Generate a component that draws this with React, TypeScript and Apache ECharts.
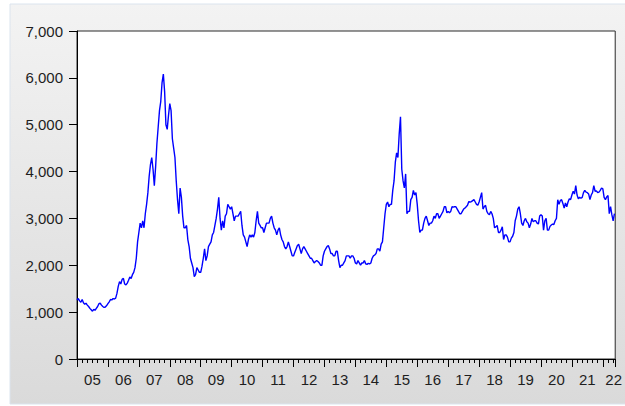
import React, { useEffect, useRef } from "react";
import * as echarts from "echarts";

// Semi-monthly closing levels (1st and 16th of each month)
const years = [2005, 2006, 2007, 2008, 2009, 2010, 2011, 2012, 2013, 2014, 2015, 2016, 2017, 2018, 2019, 2020, 2021, 2022];
const v2005 = [1260, 1290, 1240, 1210, 1270, 1200, 1170, 1190, 1150, 1120, 1080, 1050, 1020, 1060, 1040, 1080, 1120, 1180, 1190, 1150, 1120, 1100, 1110, 1140];
const v2006 = [1180, 1220, 1270, 1260, 1290, 1280, 1300, 1400, 1550, 1650, 1600, 1700, 1720, 1600, 1580, 1620, 1680, 1750, 1720, 1800, 1850, 1950, 2150, 2500];
const v2007 = [2700, 2900, 2800, 2950, 2800, 3100, 3300, 3550, 3900, 4150, 4300, 4050, 3700, 4100, 4600, 4950, 5300, 5500, 5900, 6080, 5700, 5000, 4900, 5200];
const v2008 = [5450, 5300, 4700, 4500, 4300, 3800, 3400, 3100, 3650, 3450, 3050, 2800, 2800, 2850, 2550, 2400, 2150, 2050, 1950, 1760, 1800, 1950, 1900, 1850];
const v2009 = [1850, 1980, 2150, 2350, 2100, 2200, 2400, 2450, 2500, 2650, 2700, 2850, 3000, 3200, 3450, 3000, 2750, 2950, 2800, 3050, 3100, 3300, 3250, 3200];
const v2010 = [3250, 3100, 2950, 3050, 3050, 3050, 3100, 3150, 2850, 2650, 2600, 2500, 2400, 2550, 2650, 2600, 2650, 2600, 2700, 2950, 3150, 2900, 2850, 2800];
const v2011 = [2800, 2700, 2800, 2900, 2900, 2900, 3000, 3050, 2900, 2800, 2750, 2650, 2750, 2800, 2650, 2550, 2500, 2400, 2350, 2400, 2500, 2400, 2300, 2200];
const v2012 = [2200, 2280, 2350, 2420, 2450, 2350, 2250, 2350, 2400, 2350, 2300, 2250, 2200, 2150, 2150, 2100, 2050, 2080, 2100, 2080, 2050, 2000, 2000, 2200];
const v2013 = [2300, 2350, 2400, 2420, 2350, 2250, 2250, 2200, 2200, 2300, 2300, 2100, 1950, 2000, 2000, 2050, 2100, 2200, 2200, 2200, 2150, 2200, 2200, 2150];
const v2014 = [2050, 2030, 2100, 2050, 2000, 2050, 2050, 2100, 2030, 2020, 2040, 2030, 2050, 2150, 2200, 2220, 2250, 2350, 2350, 2300, 2450, 2500, 2800, 3100];
const v2015 = [3300, 3350, 3250, 3300, 3300, 3600, 3800, 4200, 4400, 4300, 4800, 5170, 4050, 3800, 3650, 3950, 3100, 3150, 3150, 3400, 3450, 3600, 3500, 3550];
const v2016 = [3300, 2950, 2700, 2750, 2750, 2900, 3000, 3050, 2950, 2850, 2900, 2900, 2950, 3050, 3000, 3100, 3100, 3000, 3050, 3100, 3150, 3250, 3250, 3120];
const v2017 = [3150, 3120, 3150, 3250, 3240, 3250, 3250, 3200, 3150, 3100, 3100, 3150, 3200, 3220, 3250, 3280, 3360, 3350, 3360, 3380, 3400, 3350, 3300, 3280];
const v2018 = [3350, 3450, 3550, 3200, 3250, 3280, 3150, 3100, 3080, 3150, 3100, 3000, 2800, 2820, 2850, 2700, 2700, 2750, 2820, 2550, 2650, 2650, 2600, 2500];
const v2019 = [2500, 2580, 2620, 2700, 2950, 3050, 3200, 3250, 3100, 2900, 2850, 2950, 3000, 2930, 2900, 2800, 2880, 3000, 2930, 2950, 2950, 2900, 2880, 3050];
const v2020 = [3080, 3050, 2750, 2950, 3000, 2750, 2750, 2830, 2860, 2880, 2870, 2950, 3000, 3400, 3300, 3380, 3400, 3320, 3220, 3330, 3250, 3350, 3420, 3400];
const v2021 = [3500, 3580, 3520, 3700, 3500, 3420, 3450, 3430, 3450, 3550, 3600, 3560, 3550, 3520, 3400, 3500, 3550, 3700, 3580, 3590, 3550, 3560, 3600, 3650];
const v2022 = [3630, 3450, 3400, 3460, 3490, 3100, 3250, 3080, 2950, 3100];
const valuesByYear = [v2005, v2006, v2007, v2008, v2009, v2010, v2011, v2012, v2013, v2014, v2015, v2016, v2017, v2018, v2019, v2020, v2021, v2022];

// Year labels sit in the middle of each year; the last (partial) year is centred in its visible part
const labelYears = [2005.5, 2006.5, 2007.5, 2008.5, 2009.5, 2010.5, 2011.5, 2012.5, 2013.5, 2014.5, 2015.5, 2016.5, 2017.5, 2018.5, 2019.5, 2020.5, 2021.5, 2022.35];

const xMin = 2005;
const xMax = 2022.4;
const yMin = 0;
const yMax = 7000;
const yStep = 1000;

export default function App() {
  const ref = useRef<HTMLDivElement>(null);

  useEffect(() => {
    if (!ref.current) return;
    const chart = echarts.init(ref.current, null, { renderer: "svg" });

    const data: [number, number][] = [];
    valuesByYear.forEach((arr, k) => {
      arr.forEach((v, i) => data.push([years[k] + i / 24, v]));
    });

    const labelFont = {
      color: "#1e1e1e",
      fontSize: 15,
      fontFamily: "Liberation Sans, Arial, sans-serif",
    };

    chart.setOption({
      animation: false,
      backgroundColor: "#ffffff",
      graphic: {
        elements: [
          {
            type: "rect",
            z: -10,
            silent: true,
            shape: { x: 10, y: 4, width: 616, height: 400 },
            style: {
              fill: new echarts.graphic.LinearGradient(0, 0, 0, 1, [
                { offset: 0, color: "#f3f3f3" },
                { offset: 1, color: "#dadada" },
              ]),
              stroke: "#dbe4ee",
              lineWidth: 1,
            },
          },
        ],
      },
      grid: {
        left: 77,
        right: 3,
        top: 31,
        bottom: 47,
        show: true,
        backgroundColor: "#ffffff",
        borderColor: "#2a2a2a",
        borderWidth: 1,
      },
      xAxis: {
        type: "value",
        min: xMin,
        max: xMax,
        interval: 1,
        axisLine: { show: true, onZero: false, lineStyle: { color: "#000", width: 1 } },
        axisTick: { show: true, inside: false, length: 8, lineStyle: { color: "#000", width: 1 } },
        minorTick: { show: true, splitNumber: 6, length: 4, lineStyle: { color: "#000", width: 1 } },
        splitLine: { show: false },
        minorSplitLine: { show: false },
        axisLabel: {
          ...labelFont,
          margin: 13,
          customValues: labelYears,
          formatter: (v: number) => String(Math.floor(v) % 100).padStart(2, "0"),
        },
      },
      yAxis: {
        type: "value",
        min: yMin,
        max: yMax,
        interval: yStep,
        axisLine: { show: true, lineStyle: { color: "#000", width: 1 } },
        axisTick: { show: true, inside: false, length: 8, lineStyle: { color: "#000", width: 1 } },
        splitLine: { show: false },
        axisLabel: {
          ...labelFont,
          margin: 14,
          formatter: (v: number) => v.toLocaleString("en-US"),
        },
      },
      series: [
        {
          type: "line",
          data,
          showSymbol: false,
          symbol: "none",
          lineStyle: { color: "#0000ff", width: 1.4 },
          clip: true,
        },
      ],
    });

    return () => chart.dispose();
  }, []);

  return (
    <div
      ref={ref}
      style={{ position: "fixed", left: 0, top: 0, width: 625, height: 406 }}
    />
  );
}
